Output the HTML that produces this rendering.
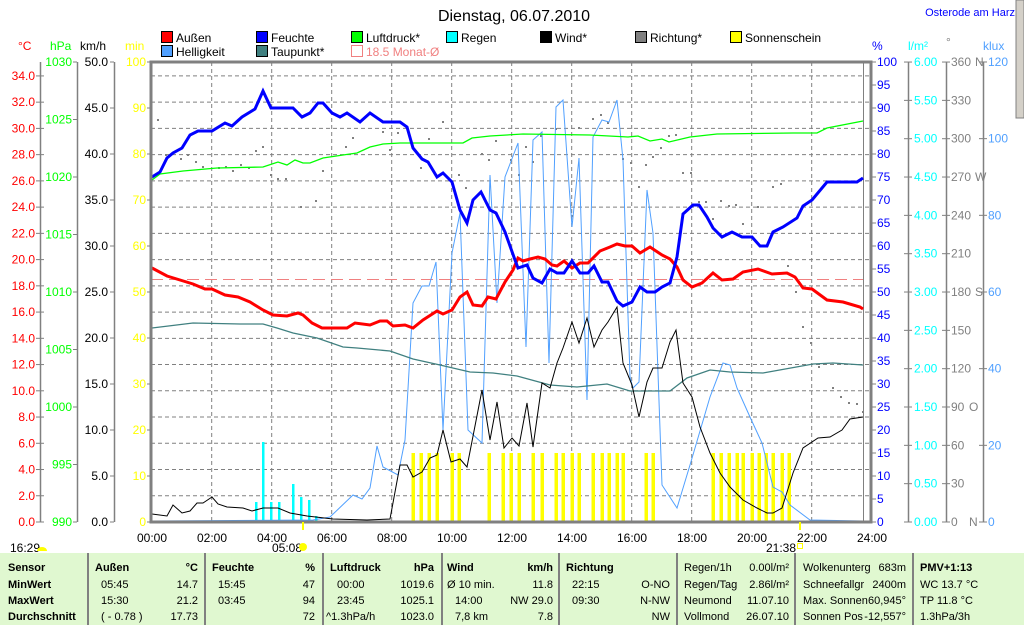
<!DOCTYPE html>
<html><head><meta charset="utf-8"><style>
body{margin:0;background:#fff;width:1024px;height:625px;overflow:hidden;font-family:"Liberation Sans",sans-serif;}
svg{position:absolute;left:0;top:0}
text{font-family:"Liberation Sans",sans-serif;font-size:12px}
.tb text{font-size:11px}
</style></head><body>
<svg width="1024" height="625" viewBox="0 0 1024 625">
<rect x="1016" y="0" width="8" height="118" fill="#d4d0c8" stroke="#808080" stroke-width="1"/>
<text x="514" y="21" text-anchor="middle" style="font-size:16px">Dienstag, 06.07.2010</text>
<text x="1015" y="16" text-anchor="end" fill="#0000ff" style="font-size:11px">Osterode am Harz</text>
<g style="font-size:12px">
<rect x="161.5" y="31.5" width="11" height="11" fill="#ff0000" stroke="#000"/><text x="176" y="42">Außen</text>
<rect x="256.5" y="31.5" width="11" height="11" fill="#0000ff" stroke="#000"/><text x="271" y="42">Feuchte</text>
<rect x="351.5" y="31.5" width="11" height="11" fill="#00ff00" stroke="#000"/><text x="366" y="42">Luftdruck*</text>
<rect x="446.5" y="31.5" width="11" height="11" fill="#00ffff" stroke="#000"/><text x="461" y="42">Regen</text>
<rect x="540.5" y="31.5" width="11" height="11" fill="#000" stroke="#000"/><text x="555" y="42">Wind*</text>
<rect x="635.5" y="31.5" width="11" height="11" fill="#808080" stroke="#000"/><text x="650" y="42">Richtung*</text>
<rect x="730.5" y="31.5" width="11" height="11" fill="#ffff00" stroke="#000"/><text x="745" y="42">Sonnenschein</text>
<rect x="161.5" y="45.5" width="11" height="11" fill="#50a0ff" stroke="#000"/><text x="176" y="56">Helligkeit</text>
<rect x="256.5" y="45.5" width="11" height="11" fill="#408080" stroke="#000"/><text x="271" y="56">Taupunkt*</text>
<rect x="351.5" y="45.5" width="11" height="11" fill="none" stroke="#f08080"/><text x="366" y="56" fill="#f08080">18.5 Monat-Ø</text>
</g>
<text x="18" y="50" fill="#ff0000">°C</text>
<text x="50" y="50" fill="#00ff00">hPa</text>
<text x="80" y="50">km/h</text>
<text x="125" y="50" fill="#ffff00">min</text>
<text x="872" y="50" fill="#0000ff">%</text>
<text x="908" y="50" fill="#00ffff">l/m²</text>
<text x="946" y="46" fill="#808080">°</text>
<text x="983" y="50" fill="#50a0ff">klux</text>
<g stroke="#808080" stroke-width="1.5">
<line x1="40.5" y1="62" x2="40.5" y2="522"/>
<line x1="77.5" y1="62" x2="77.5" y2="522"/>
<line x1="114.5" y1="62" x2="114.5" y2="522"/>
<line x1="908.5" y1="62" x2="908.5" y2="522"/>
<line x1="946.5" y1="62" x2="946.5" y2="522"/>
<line x1="983.5" y1="62" x2="983.5" y2="522"/>
</g>
<g id="ticks" stroke="#808080" stroke-width="1"></g>
<g id="labels"></g>
<g id="grid" stroke="#808080" stroke-width="1" stroke-dasharray="4,3"></g>
<line x1="151" y1="279.5" x2="863" y2="279.5" stroke="#f08080" stroke-dasharray="12,6"/>
<line x1="863.5" y1="62" x2="863.5" y2="522" stroke="#808080"/>
<g id="sun" fill="#ffff00"></g>
<g id="rain" fill="#00ffff"></g>
<g id="dots" fill="#808080"></g>
<polyline fill="none" stroke="#50a0ff" stroke-width="1" points="151,521 313,520 330,517 353,495 362,499 370,488 377,446 383,467 398,475 405,440 413,303 422,286 429,286 436,262 443,430 452,253 460,213 468,430 482,443 490,175 497,303 505,177 518,143 526,347 533,140 542,132 549,363 556,107 563,100 572,227 579,158 587,400 593,137 602,120 609,122 617,100 623,160 630,377 633,388 639,382 647,190 653,233 662,485 677,508 690,465 710,397 723,363 730,365 737,388 750,417 762,443 773,487 782,492 790,505 810,520 863,521"/>
<polyline fill="none" stroke="#408080" stroke-width="1.3" points="152,328 193,323 240,324 263,324 277,328 293,333 317,338 343,347 357,348 390,351 413,359 440,365 470,372 493,373 517,376 550,385 577,387 607,384 630,391 670,391 687,378 710,370 730,372 763,373 813,364 833,363 863,365"/>
<polyline fill="none" stroke="#00ff00" stroke-width="1.3" points="152,180 160,174 183,171 217,168 263,167 278,162 287,165 295,160 303,163 310,163 323,158 343,155 357,153 370,147 383,144 400,143 463,143 472,138 490,136 523,134 590,135 628,137 638,136 650,141 662,139 669,142 690,137 717,134 793,133 817,133 827,128 863,121"/>
<polyline fill="none" stroke="#000" stroke-width="1" points="152,514 167,516 173,505 182,513 190,511 197,503 203,503 212,497 218,504 227,507 243,508 252,511 263,508 278,508 290,513 307,516 333,519 367,520 390,519 400,465 407,465 413,477 422,472 430,458 437,455 443,430 451,462 460,459 467,467 482,390 490,440 497,402 504,448 512,438 519,446 527,403 533,447 542,383 550,388 557,363 563,348 572,322 579,343 587,318 594,347 602,330 608,322 617,307 623,363 632,385 639,417 647,382 653,368 662,368 670,342 676,330 683,383 692,397 700,427 710,453 720,473 730,487 743,500 757,508 767,513 773,513 782,508 793,473 803,448 818,438 830,437 842,430 850,419 863,417"/>
<polyline fill="none" stroke="#ff0000" stroke-width="3" points="152,268 167,276 180,280 193,284 205,289 212,289 225,295 238,297 250,302 263,310 273,315 287,316 298,313 303,315 312,323 322,328 347,328 355,323 370,325 380,321 387,321 393,326 405,325 413,328 423,320 437,311 443,314 452,310 460,297 467,292 473,305 482,306 488,297 496,299 505,282 513,270 518,258 523,261 530,259 538,257 545,259 552,265 557,266 564,261 572,268 580,263 588,263 600,251 610,247 617,244 625,246 632,246 640,253 650,247 662,255 670,259 677,267 683,280 692,287 702,283 713,273 722,280 733,279 743,272 758,269 772,274 787,273 795,277 803,288 812,289 827,300 843,302 860,307 863,309"/>
<polyline fill="none" stroke="#0000ff" stroke-width="3" points="152,177 160,172 167,158 173,153 182,148 190,135 198,131 212,131 225,123 232,126 242,117 255,109 263,91 271,108 293,108 302,117 310,113 318,103 323,103 332,113 340,117 347,113 360,122 370,113 383,122 400,122 407,127 413,148 422,159 428,162 437,177 443,173 452,182 460,210 467,223 473,200 481,192 490,210 496,213 505,232 515,260 518,268 527,265 533,278 542,283 550,269 557,273 564,273 572,261 580,273 588,273 594,266 602,282 608,282 617,301 623,306 632,302 640,287 647,292 655,292 662,287 670,283 677,257 683,214 693,205 699,205 707,217 713,228 722,237 732,232 742,237 752,237 760,246 767,246 773,232 783,227 797,218 803,206 812,200 827,182 857,182 863,178"/>
<rect x="151" y="62" width="720" height="460" fill="none" stroke="#808080" stroke-width="3"/>
<g id="xl"></g>
<text x="10" y="552">16:29</text><path d="M37,551 a5,4 0 0 1 10,0 z" fill="#ffff00"/>
<text x="272" y="552">05:08</text><circle cx="303" cy="547" r="4" fill="#ffff00"/><rect x="302" y="522" width="2" height="8" fill="#ffff00"/>
<text x="766" y="552">21:38</text><rect x="797.5" y="543.5" width="5" height="5" fill="none" stroke="#ffff00"/><rect x="799" y="522" width="2" height="8" fill="#ffff00"/>
<rect x="0" y="553" width="1024" height="72" fill="#e0f8d0"/>
<g stroke="#808080" stroke-width="2">
<line x1="88" y1="553" x2="88" y2="625"/><line x1="205" y1="553" x2="205" y2="625"/><line x1="323" y1="553" x2="323" y2="625"/><line x1="442" y1="553" x2="442" y2="625"/><line x1="559" y1="553" x2="559" y2="625"/><line x1="677" y1="553" x2="677" y2="625"/><line x1="795" y1="553" x2="795" y2="625"/><line x1="913" y1="553" x2="913" y2="625"/>
</g>
<g class="tb">
<g font-weight="bold"><text x="8" y="571">Sensor</text><text x="8" y="588">MinWert</text><text x="8" y="604">MaxWert</text><text x="8" y="620">Durchschnitt</text>
<text x="95" y="571">Außen</text><text x="198" y="571" text-anchor="end">°C</text>
<text x="212" y="571">Feuchte</text><text x="315" y="571" text-anchor="end">%</text>
<text x="330" y="571">Luftdruck</text><text x="434" y="571" text-anchor="end">hPa</text>
<text x="447" y="571">Wind</text><text x="553" y="571" text-anchor="end">km/h</text>
<text x="566" y="571">Richtung</text><text x="920" y="571">PMV+1:13</text></g>
<text x="101" y="588">05:45</text><text x="198" y="588" text-anchor="end">14.7</text>
<text x="101" y="604">15:30</text><text x="198" y="604" text-anchor="end">21.2</text>
<text x="101" y="620">( - 0.78 )</text><text x="198" y="620" text-anchor="end">17.73</text>
<text x="218" y="588">15:45</text><text x="315" y="588" text-anchor="end">47</text>
<text x="218" y="604">03:45</text><text x="315" y="604" text-anchor="end">94</text>
<text x="315" y="620" text-anchor="end">72</text>
<text x="337" y="588">00:00</text><text x="434" y="588" text-anchor="end">1019.6</text>
<text x="337" y="604">23:45</text><text x="434" y="604" text-anchor="end">1025.1</text>
<text x="326" y="620">^1.3hPa/h</text><text x="434" y="620" text-anchor="end">1023.0</text>
<text x="447" y="588">Ø 10 min.</text><text x="553" y="588" text-anchor="end">11.8</text>
<text x="455" y="604">14:00</text><text x="553" y="604" text-anchor="end">NW 29.0</text>
<text x="455" y="620">7,8 km</text><text x="553" y="620" text-anchor="end">7.8</text>
<text x="572" y="588">22:15</text><text x="670" y="588" text-anchor="end">O-NO</text>
<text x="572" y="604">09:30</text><text x="670" y="604" text-anchor="end">N-NW</text>
<text x="670" y="620" text-anchor="end">NW</text>
<text x="684" y="571">Regen/1h</text><text x="789" y="571" text-anchor="end">0.00l/m²</text>
<text x="684" y="588">Regen/Tag</text><text x="789" y="588" text-anchor="end">2.86l/m²</text>
<text x="684" y="604">Neumond</text><text x="789" y="604" text-anchor="end">11.07.10</text>
<text x="684" y="620">Vollmond</text><text x="789" y="620" text-anchor="end">26.07.10</text>
<text x="803" y="571">Wolkenunterg</text><text x="906" y="571" text-anchor="end">683m</text>
<text x="803" y="588">Schneefallgr</text><text x="906" y="588" text-anchor="end">2400m</text>
<text x="803" y="604">Max. Sonnen</text><text x="906" y="604" text-anchor="end">60,945°</text>
<text x="803" y="620">Sonnen Pos</text><text x="906" y="620" text-anchor="end">-12,557°</text>
<text x="920" y="588">WC 13.7 °C</text><text x="920" y="604">TP 11.8 °C</text><text x="920" y="620">1.3hPa/3h</text>
</g>
</svg>
<script>
var NS="http://www.w3.org/2000/svg";
function el(p,t,a,txt){var e=document.createElementNS(NS,t);for(var k in a)e.setAttribute(k,a[k]);if(txt!==undefined)e.textContent=txt;document.getElementById(p).appendChild(e);return e;}
function line(p,x1,y1,x2,y2){el(p,'line',{x1:x1,y1:y1,x2:x2,y2:y2});}
function txt(x,y,s,c,anc){el('labels','text',{x:x,y:y,fill:c,'text-anchor':anc||'start'},s);}
var i,y;
for(i=0;i<=34;i+=2){y=522-i*13.12;line('ticks',36,y,44,y);txt(35,y+4,i.toFixed(1),'#ff0000','end');if(i>0)line('grid',151,y,871,y);}
for(i=990;i<=1030;i+=5){y=522-(i-990)*11.5;line('ticks',73,y,77,y);txt(72,y+4,i,'#00ff00','end');}
for(i=0;i<=50;i+=5){y=522-i*9.2;line('ticks',110,y,114,y);txt(108,y+4,i.toFixed(1),'#000','end');}
for(i=0;i<=100;i+=10){y=522-i*4.6;line('ticks',147,y,151,y);txt(146,y+4,i,'#ffff00','end');}
for(i=0;i<=100;i+=5){y=522-i*4.6;line('ticks',872,y,876,y);txt(877,y+4,i,'#0000ff');}
for(i=0;i<=12;i++){y=522-i*38.33;line('ticks',904,y,912,y);txt(914,y+4,(i*0.5).toFixed(2),'#00ffff');}
var dl={0:'N',3:'O',6:'S',9:'W',12:'N'};
for(i=0;i<=12;i++){y=522-i*38.33;line('ticks',942,y,950,y);txt(951,y+4,i*30,'#808080');if(dl[i])txt(i==0||i==3?969:975,y+4,dl[i],'#808080');}
for(i=0;i<=6;i++){y=522-i*76.67;line('ticks',979,y,987,y);txt(988,y+4,i*20,'#50a0ff');}
for(i=1;i<12;i++){var x=151.7+60*i;line('grid',x,62,x,522);}
for(i=0;i<=12;i++){el('xl','text',{x:152+60*i,y:542,'text-anchor':'middle'},(i*2<10?'0':'')+(i*2)+':00');}
[413,421,429,437,452,459,489,503,511,519,533,542,556,563,572,579,593,602,609,617,623,646,653,713,721,729,737,743,752,759,766,773,782,789].forEach(function(x){el('sun','rect',{x:x-1.5,y:453,width:3.5,height:69});});
[[256,502],[263,442],[271,502],[279,502],[293,484],[301,497],[309,500],[316,516]].forEach(function(p){el('rain','rect',{x:p[0]-1,y:p[1],width:2.5,height:522-p[1]});});
[[158,120],[166,155],[173,153],[181,159],[188,155],[196,162],[203,167],[219,168],[226,167],[233,171],[241,165],[249,168],[256,151],[263,147],[271,175],[278,179],[286,179],[301,207],[316,201],[323,171],[346,147],[353,138],[383,132],[390,150],[398,133],[443,122],[429,139],[421,168],[459,175],[466,188],[482,154],[489,160],[496,141],[511,160],[519,175],[526,147],[533,162],[541,136],[556,129],[572,216],[579,128],[593,119],[601,115],[608,123],[623,159],[631,163],[639,187],[646,165],[653,157],[661,148],[669,136],[676,135],[683,173],[691,173],[699,202],[706,202],[713,219],[721,201],[729,206],[736,205],[743,224],[758,207],[773,187],[781,184],[788,266],[796,292],[803,327],[811,343],[819,367],[833,388],[841,397],[849,403],[857,404],[863,412]].forEach(function(p){el('dots','rect',{x:p[0]-1,y:p[1]-1,width:2,height:2});});
</script>
</body></html>
